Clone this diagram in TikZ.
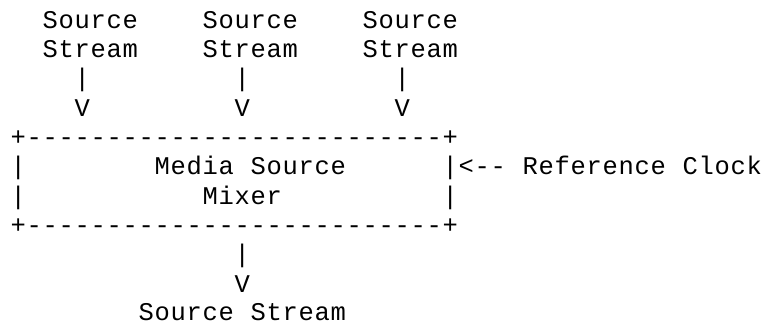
\documentclass[tikz,border=0pt]{standalone}
\usepackage{fontspec}
\newfontfamily\asciifont{Liberation Mono}[LetterSpace=2.75]
\begin{document}
\begin{tikzpicture}[x=1pt,y=1pt,
  asc/.style={anchor=base west,inner sep=0pt,outer sep=0pt,xshift=0.35pt,
    font=\asciifont\fontsize{25.5}{30}\selectfont,text=black}]
\useasboundingbox[fill=white] (0,0) rectangle (766,325);
% columns: x = 10.3 + 16*col ; baselines: 296.7 - 29.33*(line-1)
% line 1-2: sources
\node[asc] (s1a) at (42.3,296.7) {Source};
\node[asc] (s2a) at (202.3,296.7) {Source};
\node[asc] (s3a) at (362.3,296.7) {Source};
\node[asc] (s1b) at (42.3,267.37) {Stream};
\node[asc] (s2b) at (202.3,267.37) {Stream};
\node[asc] (s3b) at (362.3,267.37) {Stream};
% line 3-4: arrows
\node[asc] (a1) at (74.3,238.04) {|};
\node[asc] (a2) at (234.3,238.04) {|};
\node[asc] (a3) at (394.3,238.04) {|};
\node[asc] (v1) at (74.3,208.71) {V};
\node[asc] (v2) at (234.3,208.71) {V};
\node[asc] (v3) at (394.3,208.71) {V};
% box
\node[asc] (top) at (10.3,179.38) {+--------------------------+};
\node[asc] (l1) at (10.3,150.05) {|};
\node[asc] (media) at (154.3,150.05) {Media};
\node[asc] (source) at (250.3,150.05) {Source};
\node[asc] (clock) at (442.3,150.05) {|<--};
\node[asc] (ref) at (522.3,150.05) {Reference};
\node[asc] (clk) at (682.3,150.05) {Clock};
\node[asc] (l2) at (10.3,120.72) {|};
\node[asc] (mixer) at (202.3,120.72) {Mixer};
\node[asc] (r2) at (442.3,120.72) {|};
\node[asc] (bot) at (10.3,91.39) {+--------------------------+};
% output
\node[asc] (oa) at (234.3,62.06) {|};
\node[asc] (ov) at (234.3,32.73) {V};
\node[asc] (out) at (138.3,4.4) {Source};
\node[asc] (outb) at (250.3,4.4) {Stream};
\end{tikzpicture}
\end{document}
